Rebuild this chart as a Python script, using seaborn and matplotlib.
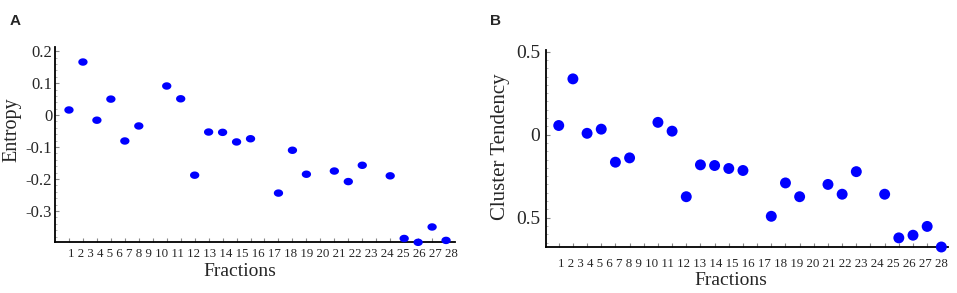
import matplotlib.pyplot as plt
import seaborn as sns
import pandas as pd
import numpy as np
from matplotlib.path import Path
from matplotlib.ticker import MultipleLocator, FixedLocator, FixedFormatter

sns.set_style('white')
plt.rcParams['font.family'] = ['Liberation Serif', 'DejaVu Serif']

# values (x = fraction index)
fractions = [1, 2, 3, 4, 5, 6, 8, 9, 10, 11, 12, 13, 14, 16, 17, 18, 20, 21, 22, 24, 25, 26, 27, 28]
entropy = [0.016, 0.166, -0.016, 0.050, -0.081, -0.034, 0.091, 0.051, -0.188, -0.053, -0.054, -0.084,
           -0.074, -0.244, -0.110, -0.185, -0.175, -0.208, -0.157, -0.190, -0.386, -0.398, -0.350, -0.392]
cluster_tendency = [0.055, 0.336, 0.008, 0.033, -0.166, -0.140, 0.074, 0.021, -0.374, -0.182, -0.186, -0.204,
                    -0.216, -0.492, -0.291, -0.374, -0.300, -0.359, -0.223, -0.359, -0.622, -0.606, -0.553, -0.677]
frac_labels = [str(i) for i in range(1, 29)]

entropy_ticks = [0.2, 0.1, 0, -0.1, -0.2, -0.3]
entropy_ticklabels = ['0.2', '0.1', '0', '-0.1', '-0.2', '-0.3']
cluster_ticks = [0.5, 0, -0.5]
cluster_ticklabels = ['0.5', '0', '0.5']

df = pd.DataFrame({'Fractions': fractions, 'Entropy': entropy, 'Cluster Tendency': cluster_tendency})

# slightly flattened dot for panel A
t = np.linspace(0, 2 * np.pi, 40)
ellipse = Path(np.column_stack([1.25 * np.cos(t), np.sin(t)]), closed=True)

fig = plt.figure(figsize=(9.57, 2.93), dpi=100)
W, H = 957, 293
axA = fig.add_axes([55 / W, 1 - 242 / H, 400 / W, 195 / H])
axB = fig.add_axes([545.7 / W, 1 - 246.5 / H, 402.3 / W, 196.5 / H])


def style_panel(ax, ticks, ticklabels, minor, ysize, ypad):
    ax.set_xticks(range(1, 29))
    ax.set_xticklabels([])
    ax.yaxis.set_major_locator(FixedLocator(ticks))
    ax.yaxis.set_major_formatter(FixedFormatter(ticklabels))
    ax.yaxis.set_minor_locator(MultipleLocator(minor))
    ax.tick_params(axis='x', direction='in', length=3, width=0.8, color='#888888', bottom=True)
    ax.tick_params(axis='y', which='major', direction='in', length=3, width=0.8, color='#888888',
                   left=True, labelsize=ysize, pad=ypad)
    ax.tick_params(axis='y', which='minor', direction='in', length=1.5, width=0.6, color='#aaaaaa', left=True)
    for s in ['top', 'right']:
        ax.spines[s].set_visible(False)
    for s in ['left', 'bottom']:
        ax.spines[s].set_color('black')
        ax.spines[s].set_linewidth(1.3)
    ax.grid(False)


sns.scatterplot(data=df, x='Fractions', y='Entropy', ax=axA, color='#0000ff', marker=ellipse,
                s=45, edgecolor='none', clip_on=False, zorder=3)
axA.set_xlim(0, 28.64)
axA.set_ylim(-0.397, 0.213)
style_panel(axA, entropy_ticks, entropy_ticklabels, 0.02, 12, 2)
axA.text(0.033, -0.031, ' '.join(frac_labels), transform=axA.transAxes, ha='left', va='top', fontsize=9.3)
axA.set_xlabel('Fractions', fontsize=14)
axA.xaxis.set_label_coords(0.4625, -0.108)
axA.xaxis.label.set_va('top')
axA.set_ylabel('Entropy', fontsize=14.5)
axA.yaxis.set_label_coords(-0.084, 0.574)

sns.scatterplot(data=df, x='Fractions', y='Cluster Tendency', ax=axB, color='#0000ff', marker='o',
                s=62, edgecolor='none', clip_on=False, zorder=3)
axB.set_xlim(0.08, 28.47)
axB.set_ylim(-0.674, 0.51)
style_panel(axB, cluster_ticks, cluster_ticklabels, 0.05, 14, 4)
axB.text(0.031, -0.059, ' '.join(frac_labels), transform=axB.transAxes, ha='left', va='top', fontsize=9.3)
axB.set_xlabel('Fractions', fontsize=14)
axB.xaxis.set_label_coords(0.46, -0.128)
axB.xaxis.label.set_va('top')
axB.set_ylabel('Cluster Tendency', fontsize=15)
axB.yaxis.set_label_coords(-0.0895, 0.506)

fig.text(10 / W, 1 - 25 / H, 'A', fontsize=11, fontweight='bold', family='Liberation Sans')
fig.text(490 / W, 1 - 25 / H, 'B', fontsize=11, fontweight='bold', family='Liberation Sans')

fig.savefig('out.png', dpi=100, facecolor='white')
